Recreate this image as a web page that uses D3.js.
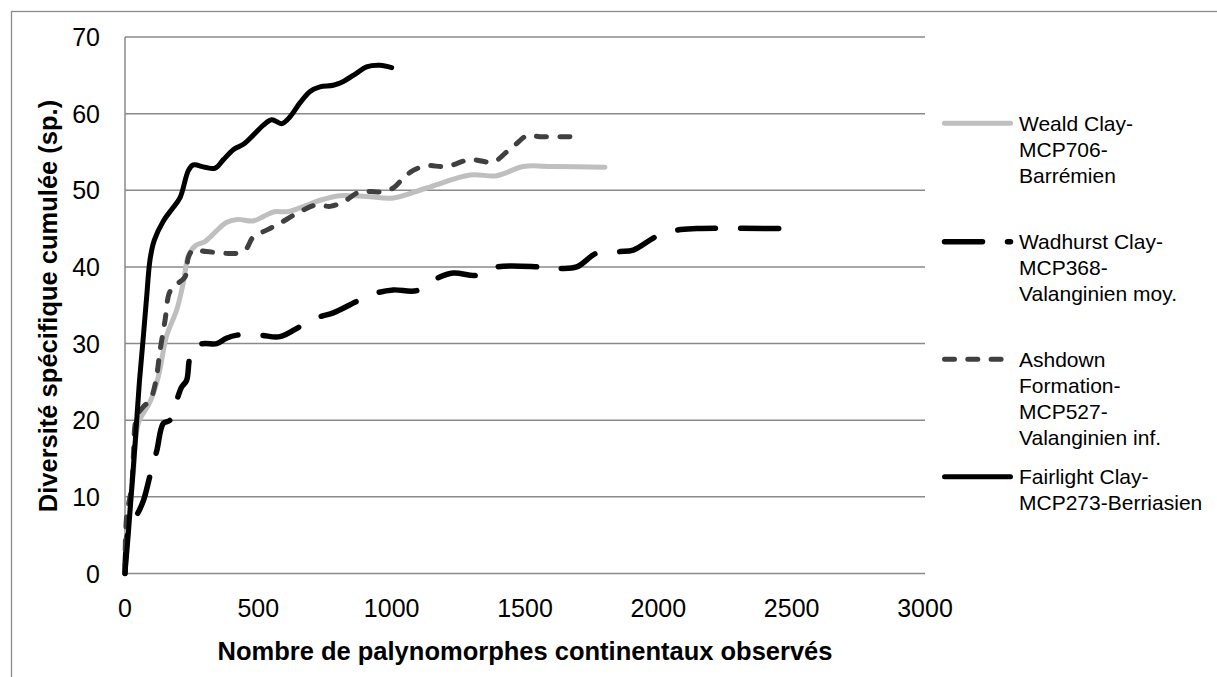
<!DOCTYPE html>
<html><head><meta charset="utf-8">
<script src="https://cdn.jsdelivr.net/npm/d3@7"></script>
<style>html,body{margin:0;padding:0;background:#fff;}svg{display:block;font-family:"Liberation Sans",Arial,sans-serif;}</style>
</head><body><svg id="c" width="1217" height="677"></svg>
<script>
const xTicks = [0, 500, 1000, 1500, 2000, 2500, 3000];
const yTicks = [0, 10, 20, 30, 40, 50, 60, 70];
const seriesNames = ["Weald Clay-\nMCP706-\nBarrémien", "Wadhurst Clay-\nMCP368-\nValanginien moy.", "Ashdown\nFormation-\nMCP527-\nValanginien inf.", "Fairlight Clay-\nMCP273-Berriasien"];
const wealdX = [0,12,31,50,94,125,156,194,219,238,265,300,340,380,420,480,520,560,606,656,731,806,906,1006,1131,1294,1394,1494,1606,1800];
const wealdY = [0,6,13,19.6,22.4,25.7,31,34.4,38,41.5,42.8,43.3,44.6,45.8,46.2,46,46.6,47.2,47.2,47.7,48.7,49.3,49.2,49,50.3,52,51.9,53.1,53.1,53];
const wadhurstX = [0,15,44,69,94,119,144,169,194,212,231,242,262,300,344,380,420,506,581,656,731,781,869,944,1006,1094,1169,1231,1319,1394,1556,1631,1694,1769,1856,1906,1994,2069,2144,2465];
const wadhurstY = [0,6,7.6,9.5,12.8,16,19.6,20,22.6,24.3,25.2,28,29.8,30,30,30.7,31.1,31.1,30.9,32.2,33.5,34,35.5,36.6,37,36.9,38.5,39.2,38.9,40,40,39.8,40,41.8,42,42.2,44,44.8,45,45];
const ashdownX = [0,6,25,31,44,70,94,115,131,150,165,181,225,238,256,306,444,481,531,581,656,719,769,819,881,956,1006,1044,1081,1131,1206,1294,1381,1431,1469,1506,1556,1705];
const ashdownY = [0,7.4,11.3,15,20.5,21.8,22.6,25,29,33,36.5,37.4,38.7,41.3,42.2,42,42,43.9,44.8,45.7,47.2,48.1,47.9,48.5,49.8,49.8,50.3,51.6,52.6,53.2,53.1,54,53.7,55,56.1,57.1,57,57];
const fairlightX = [0,12,25,38,54,69,81,94,110,144,175,206,238,256,300,338,369,406,444,481,519,550,588,619,656,694,731,781,819,869,906,956,1000];
const fairlightY = [0,5,11,17,25,31,36,41,43.5,46,47.5,49,52.6,53.3,53,52.9,54,55.3,56,57.2,58.5,59.2,58.7,59.6,61.4,62.9,63.5,63.7,64.2,65.3,66.1,66.3,66];

const svg = d3.select("#c");
const x = d3.scaleLinear().domain([0, 3000]).range([125, 925]);
const y = d3.scaleLinear().domain([0, 70]).range([573.5, 37]);

// outer border
svg.append("rect").attr("x", 11.5).attr("y", 11.5).attr("width", 1300).attr("height", 800)
  .attr("fill", "none").attr("stroke", "#8c8c8c").attr("stroke-width", 1.3);

// gridlines
svg.append("g").selectAll("line").data(yTicks).join("line")
  .attr("x1", x(0)).attr("x2", x(3000)).attr("y1", d => y(d)).attr("y2", d => y(d))
  .attr("stroke", "#8a8a8a").attr("stroke-width", 1.5);
svg.append("line").attr("x1", x(0)).attr("x2", x(0)).attr("y1", y(0)).attr("y2", y(70))
  .attr("stroke", "#8a8a8a").attr("stroke-width", 1.5);

// tick labels
svg.append("g").selectAll("text").data(yTicks).join("text")
  .attr("x", 100).attr("y", d => y(d)).attr("dy", "0.36em").attr("text-anchor", "end")
  .attr("font-size", 25).text(d => d);
svg.append("g").selectAll("text").data(xTicks).join("text")
  .attr("x", d => x(d)).attr("y", 617).attr("text-anchor", "middle")
  .attr("font-size", 25).text(d => d);

// axis titles
svg.append("text").attr("x", 525).attr("y", 660).attr("text-anchor", "middle")
  .attr("font-size", 25.5).attr("font-weight", "bold").text("Nombre de palynomorphes continentaux observés");
svg.append("text").attr("transform", "translate(57,306) rotate(-90)").attr("text-anchor", "middle")
  .attr("font-size", 25.5).attr("font-weight", "bold").text("Diversité spécifique cumulée (sp.)");

const styles = [
  {color: "#bfbfbf", dash: null, w: 5},
  {color: "#000000", dash: "38,25", w: 5.5},
  {color: "#404040", dash: "10,13.3", w: 5},
  {color: "#000000", dash: null, w: 5}
];
const series = [
  d3.zip(wealdX, wealdY),
  d3.zip(wadhurstX, wadhurstY),
  d3.zip(ashdownX, ashdownY),
  d3.zip(fairlightX, fairlightY)
];
const line = d3.line().x(d => x(d[0])).y(d => y(d[1])).curve(d3.curveCatmullRom.alpha(0.5));
series.forEach((s, i) => {
  const p = svg.append("path").attr("d", line(s)).attr("fill", "none")
    .attr("stroke", styles[i].color).attr("stroke-width", styles[i].w)
    .attr("stroke-linecap", "round").attr("stroke-linejoin", "round");
  if (styles[i].dash) p.attr("stroke-dasharray", styles[i].dash);
});

// legend
const legY = [123.3, 241.7, 359.3, 476.7];
seriesNames.forEach((name, i) => {
  const l = svg.append("line").attr("x1", 944.5).attr("x2", 1010.5).attr("y1", legY[i]).attr("y2", legY[i])
    .attr("stroke", styles[i].color).attr("stroke-width", styles[i].w).attr("stroke-linecap", "round");
  if (styles[i].dash) l.attr("stroke-dasharray", styles[i].dash);
  const t = svg.append("text").attr("x", 1019).attr("y", legY[i]).attr("font-size", 21);
  name.split("\n").forEach((ln, k) => {
    t.append("tspan").attr("x", 1019).attr("y", legY[i] + k * 26).attr("dy", "0.36em").text(ln);
  });
});
</script></body></html>
